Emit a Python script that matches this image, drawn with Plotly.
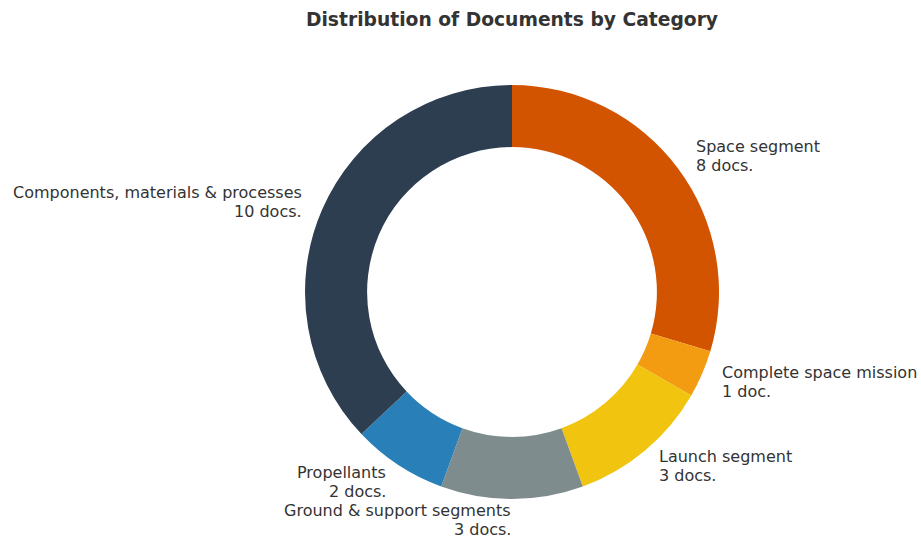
import math
import plotly.graph_objects as go

# Document counts per category
categories = [
    "Space segment",
    "Complete space mission",
    "Launch segment",
    "Ground & support segments",
    "Propellants",
    "Components, materials & processes",
]
doc_counts = [8, 1, 3, 3, 2, 10]
colors = ["#d35400", "#f39c12", "#f1c40f", "#7f8c8d", "#2980b9", "#2c3e50"]

W, H = 921, 539
cx, cy, radius = 512, 292, 207  # donut centre and outer radius in pixels
line_gap = 19  # vertical distance between the two label lines, px

dom_x = [(cx - radius) / W, (cx + radius) / W]
dom_y = [(H - cy - radius) / H, (H - cy + radius) / H]

fig = go.Figure(
    go.Pie(
        labels=categories,
        values=doc_counts,
        sort=False,
        direction="clockwise",
        rotation=0,
        hole=0.70,
        marker=dict(colors=colors, line=dict(width=0)),
        textinfo="none",
        hoverinfo="label+value",
        domain=dict(x=dom_x, y=dom_y),
        showlegend=False,
    )
)

# Outside labels placed at 1.1 x radius on each slice's mid-angle
total = sum(doc_counts)
annotations = []
cum = 0
for name, n in zip(categories, doc_counts):
    mid = math.radians(90 - (cum + n / 2) / total * 360)
    cum += n
    px = cx + 1.1 * radius * math.cos(mid)
    py = cy - 1.1 * radius * math.sin(mid)
    right = math.cos(mid) > 1e-9
    unit = "doc." if n == 1 else "docs."
    for k, line in enumerate([name, f"{n} {unit}"]):
        annotations.append(
            dict(
                x=px / W,
                y=1 - (py + (k - 0.5) * line_gap) / H,
                xref="paper",
                yref="paper",
                text=line,
                showarrow=False,
                borderpad=0,
                xanchor="left" if right else "right",
                yanchor="middle",
                align="left" if right else "right",
                font=dict(family="DejaVu Sans", size=16, color="#333333"),
            )
        )

fig.update_layout(
    width=W,
    height=H,
    margin=dict(l=0, r=0, t=0, b=0),
    paper_bgcolor="white",
    plot_bgcolor="white",
    title=dict(
        text="<b>Distribution of Documents by Category</b>",
        x=cx / W,
        xanchor="center",
        y=1 - 19 / H,
        yanchor="middle",
        font=dict(family="DejaVu Sans", size=18.7, color="#333333"),
    ),
    annotations=annotations,
)

fig.write_html("out.html")
